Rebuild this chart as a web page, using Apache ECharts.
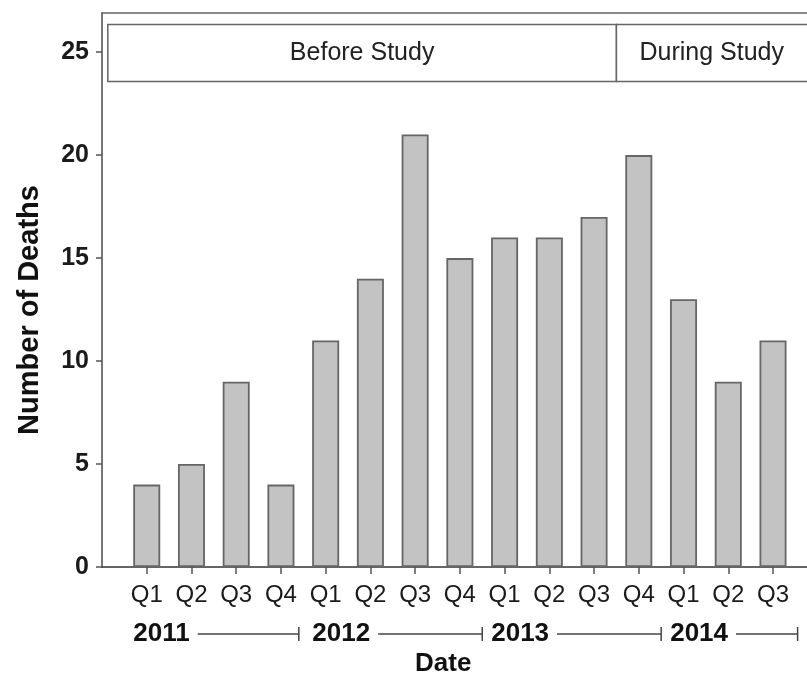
<!DOCTYPE html>
<html>
<head>
<meta charset="utf-8">
<script src="https://cdn.jsdelivr.net/npm/echarts@6/dist/echarts.min.js"></script>
<style>html,body{margin:0;padding:0;background:#fff;}#chart{width:807px;height:675px;}</style>
</head>
<body>
<div id="chart"></div>
<script>
// ---- data ----
const quarters = ['Q1','Q2','Q3','Q4','Q1','Q2','Q3','Q4','Q1','Q2','Q3','Q4','Q1','Q2','Q3'];
const deaths = [4, 5, 9, 4, 11, 14, 21, 15, 16, 16, 17, 20, 13, 9, 11];
const years = ['2011', '2012', '2013', '2014'];
const yearStart = [0.5, 4.5, 8.5, 12.5];
const yearEnd = [4.4, 8.5, 12.5, 15.55];
const phases = ['Before Study', 'During Study'];
const phaseStart = [0.13, 11.5];
const phaseEnd = [11.5, 16.2];
const phaseLow = 23.57;
const phaseHigh = 26.34;
const yTicks = [0, 5, 10, 15, 20, 25];

const FONT = '"Liberation Sans", Arial, Helvetica, sans-serif';
const X_MAX = 15.76, Y_MAX = 26.9;
const xTicks = quarters.map((q, i) => i + 1);

const measureCtx = document.createElement('canvas').getContext('2d');
function textWidth(t, font) { measureCtx.font = font; return measureCtx.measureText(t).width; }

const chart = echarts.init(document.getElementById('chart'), null, {renderer: 'canvas'});

const barData = deaths.map((v, i) => [i + 1, v]);
const yearData = years.map((y, i) => [yearStart[i], yearEnd[i]]);
const phaseData = phases.map((p, i) => [phaseStart[i], phaseEnd[i], phaseLow, phaseHigh]);

const option = {
  animation: false,
  backgroundColor: '#ffffff',
  grid: {left: 102, right: 0, top: 13, bottom: 108, containLabel: false},
  xAxis: [{
    type: 'value', min: 0, max: X_MAX, interval: 1,
    axisLine: {show: true, lineStyle: {color: '#333', width: 1.5}},
    axisTick: {show: true, length: 7, customValues: xTicks, lineStyle: {color: '#555', width: 1.5}},
    axisLabel: {
      show: true, margin: 16, fontFamily: FONT, fontSize: 24, color: '#1a1a1a',
      customValues: xTicks,
      formatter: v => quarters[Math.round(v) - 1] || ''
    },
    splitLine: {show: false}
  }, {
    type: 'value', min: 0, max: X_MAX, position: 'top',
    axisLine: {show: true, onZero: false, lineStyle: {color: '#666', width: 1.5}},
    axisTick: {show: false}, axisLabel: {show: false}, splitLine: {show: false}
  }],
  yAxis: {
    type: 'value', min: 0, max: Y_MAX, interval: 5,
    axisLine: {show: true, lineStyle: {color: '#777', width: 2}},
    axisTick: {show: true, length: 6, customValues: yTicks, lineStyle: {color: '#555', width: 1.5}},
    axisLabel: {
      margin: 13, fontFamily: FONT, fontSize: 25, fontWeight: 'bold', color: '#1a1a1a',
      customValues: yTicks,
      formatter: v => String(v)
    },
    splitLine: {show: false}
  },
  series: [{
    type: 'bar',
    data: barData,
    barWidth: 27,
    itemStyle: {color: '#c3c3c3', borderColor: '#666666', borderWidth: 1.8}
  }, {
    type: 'custom',
    clip: false,
    silent: true,
    data: phaseData,
    encode: {x: [0, 1], y: [2, 3]},
    renderItem: function (params, api) {
      const p0 = api.coord([api.value(0), api.value(3)]);
      const p1 = api.coord([api.value(1), api.value(2)]);
      const w = p1[0] - p0[0], h = p1[1] - p0[1];
      const vis0 = Math.max(p0[0], params.coordSys.x);
      const vis1 = Math.min(p1[0], params.coordSys.x + params.coordSys.width);
      return {
        type: 'group',
        children: [
          {type: 'rect', shape: {x: p0[0], y: p0[1], width: w, height: h},
           style: {fill: '#ffffff', stroke: '#666', lineWidth: 1.5}},
          {type: 'text', style: {text: phases[params.dataIndex], x: (vis0 + vis1) / 2, y: p0[1] + h / 2,
           font: '25px ' + FONT, fill: '#222', textAlign: 'center', textVerticalAlign: 'middle'}}
        ]
      };
    }
  }, {
    type: 'custom',
    clip: false,
    silent: true,
    data: yearData,
    encode: {x: [0, 1]},
    renderItem: function (params, api) {
      const s = api.coord([api.value(0), 0]);
      const e = api.coord([api.value(1), 0]);
      const label = years[params.dataIndex];
      const font = 'bold 26px ' + FONT;
      const y = s[1] + 67;
      const tx = s[0] + 9;
      const tw = textWidth(label, font);
      return {
        type: 'group',
        children: [
          {type: 'text', style: {text: label, x: tx, y: y, font: font, fill: '#111', textAlign: 'left', textVerticalAlign: 'middle'}},
          {type: 'line', shape: {x1: tx + tw + 8, y1: y, x2: e[0], y2: y}, style: {stroke: '#444', lineWidth: 1.5}},
          {type: 'line', shape: {x1: e[0], y1: y - 7, x2: e[0], y2: y + 7}, style: {stroke: '#444', lineWidth: 1.5}}
        ]
      };
    }
  }],
  graphic: [
    {type: 'text', left: 415, top: 651, style: {text: 'Date', font: 'bold 26px ' + FONT, fill: '#111'}},
    {type: 'text', x: 30, y: 310, rotation: Math.PI / 2,
     style: {text: 'Number of Deaths', font: 'bold 29px ' + FONT, fill: '#111', textAlign: 'center', textVerticalAlign: 'middle'}}
  ]
};
chart.setOption(option);
</script>
</body>
</html>
